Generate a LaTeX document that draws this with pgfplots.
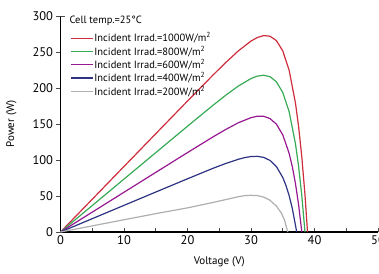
\documentclass[border=0pt]{standalone}
\usepackage{fontspec}
\setmainfont{PT Sans}
\usepackage{pgfplots}
\pgfplotsset{compat=1.18}
\definecolor{cred}{RGB}{205,45,60}
\definecolor{cgreen}{RGB}{55,170,85}
\definecolor{cpurple}{RGB}{150,25,145}
\definecolor{cblue}{RGB}{45,50,130}
\definecolor{cgray}{RGB}{175,175,175}
\begin{document}
\begin{tikzpicture}
\begin{axis}[
  x=6.35pt, y=0.72pt,
  xmin=0, xmax=50, ymin=0, ymax=300,
  axis lines=left,
  axis line style={line width=1.8pt, -},
  xtick={0,10,...,50}, minor xtick={5,15,...,45},
  ytick={0,50,...,300},
  xtick align=inside, ytick align=outside,
  major tick length=4pt, minor tick length=4pt,
  tick style={black!70, line width=0.6pt},
  tick label style={font=\fontsize{12.5}{14}\selectfont},
  /pgf/number format/assume math mode=true,
  xlabel={Voltage (V)}, ylabel={Power (W)},
  label style={font=\fontsize{11}{12}\selectfont},
  ylabel shift=9pt, xlabel shift=5pt,
  legend cell align=left,
  legend image code/.code={\draw[#1] (0pt,0pt) -- (22pt,0pt);},
  legend style={draw=none, fill=none, at={(rel axis cs:0.03,0.928)}, anchor=north west,
    font=\fontsize{10.5}{11}\selectfont, inner sep=0pt, row sep=0.6pt, nodes={inner sep=1pt}},
  every axis plot/.append style={line width=1.2pt},
]
\addplot[cred] coordinates {(0,0) (5,45.5) (10,91.0) (15,136.5) (20,181.9) (24,217.8) (26,235.2) (28,251.5) (30,265.2) (31,270.1) (32,272.8) (33,271.9) (34,265.8) (35,251.6) (36,224.9) (37,179.2) (37.5,146.3) (38,104.5) (38.5,51.8) (38.9,0)};
\addlegendentry{Incident Irrad.=1000W/m\textsuperscript{2}}
\addplot[cgreen] coordinates {(0,0) (5,36.75) (10,73.5) (15,110.2) (20,146.9) (24,175.9) (26,189.8) (28,202.7) (30,213.1) (31,216.5) (32,217.7) (33,215.7) (34,208.6) (35,193.8) (36,167.3) (37,122.7) (37.5,90.9) (38,50.6) (38.5,0)};
\addlegendentry{Incident Irrad.=800W/m\textsuperscript{2}}
\addplot[cpurple] coordinates {(0,0) (5,27.6) (10,55.2) (15,82.8) (20,110.3) (24,132.0) (26,142.3) (28,151.7) (30,158.8) (31,160.8) (32,160.7) (33,157.5) (34,149.8) (35,135.0) (36,109.4) (36.5,90.9) (37,67.4) (37.5,37.6) (38,0)};
\addlegendentry{Incident Irrad.=600W/m\textsuperscript{2}}
\addplot[cblue] coordinates {(0,0) (5,18.5) (10,37.0) (15,55.5) (20,73.9) (24,88.4) (26,95.1) (28,101.0) (29,103.3) (30,104.8) (31,105.1) (32,103.6) (33,99.4) (34,90.9) (35,75.8) (35.5,64.8) (36,50.8) (36.5,33.0) (37.2,0)};
\addlegendentry{Incident Irrad.=400W/m\textsuperscript{2}}
\addplot[cgray] coordinates {(0,0) (5,8.5) (10,17) (15,25.5) (20,33.5) (24,41) (26,45) (28,49) (29,50.5) (30,51) (31,50.5) (32,48.5) (33,44) (34,36) (34.8,26) (35.3,16) (35.6,6) (35.8,0)};
\addlegendentry{Incident Irrad.=200W/m\textsuperscript{2}}
\node[anchor=west, font=\fontsize{10.5}{11}\selectfont, inner sep=0pt] at (axis cs:1.4,293) {Cell temp.=25°C};
\draw[black!70, line width=0.6pt] (axis cs:0,300) -- (axis cs:0.7,300);
\end{axis}
\pgfresetboundingbox
\path (-60.5pt,-41pt) rectangle (318.5pt,232pt);
\end{tikzpicture}
\end{document}
